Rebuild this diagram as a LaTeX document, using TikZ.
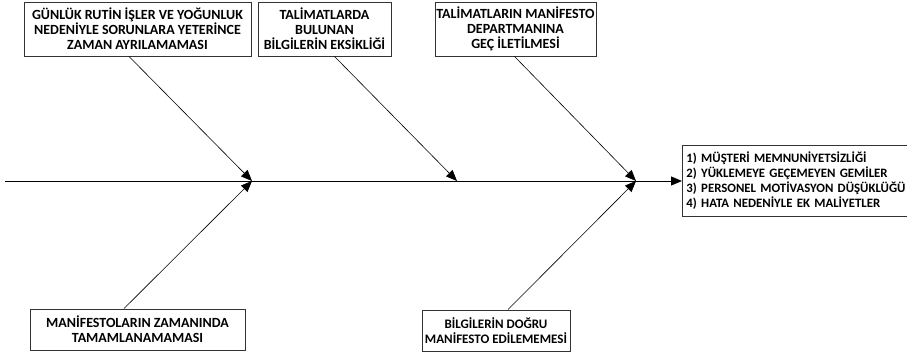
\documentclass[tikz,border=0pt]{standalone}
\usepackage{fontspec}
\setmainfont{Carlito}
\usetikzlibrary{arrows.meta}
\begin{document}
\begin{tikzpicture}[x=1pt,y=1pt,
  box/.style={draw=black!80,line width=0.9pt,fill=white,align=center,
    font=\bfseries\fontsize{14}{15}\selectfont,inner sep=0pt},
  cause/.style={line width=0.6pt,-{Triangle[length=11pt,width=9pt]}},
  spine/.style={line width=0.9pt,-{Triangle[length=11pt,width=9pt]}}]
\useasboundingbox (0,0) rectangle (907,354);
\fill[white] (0,0) rectangle (907,354);
\begin{scope}
\clip (0,0) rectangle (907,354);
% cause boxes, top row
\node[box,minimum width=227pt,minimum height=54pt] (b1) at (137.5,325)
  {GÜNLÜK RUTİN İŞLER VE YOĞUNLUK\\NEDENİYLE SORUNLARA YETERİNCE\\ZAMAN AYRILAMAMASI};
\node[box,minimum width=133pt,minimum height=54pt] (b2) at (324.5,325)
  {TALİMATLARDA\\BULUNAN\\BİLGİLERİN EKSİKLİĞİ};
\node[box,minimum width=161pt,minimum height=54pt] (b3) at (515.5,325)
  {TALİMATLARIN MANİFESTO\\DEPARTMANINA\\GEÇ İLETİLMESİ};
% cause boxes, bottom row
\node[box,minimum width=215pt,minimum height=41pt] (b4) at (137.5,24.5)
  {MANİFESTOLARIN ZAMANINDA\\TAMAMLANAMAMASI};
\node[box,minimum width=148pt,minimum height=41pt,
  font=\bfseries\fontsize{13}{15}\selectfont] (b5) at (496,23.5)
  {BİLGİLERİN DOĞRU\\MANİFESTO EDİLEMEMESİ};
% effect box
\node[box,anchor=west,minimum width=260pt,minimum height=71pt,align=left,
  text width=252pt,font=\bfseries\fontsize{12.8}{15}\selectfont] (eff) at (682,173.5)
  {1) MÜŞTERİ MEMNUNİYETSİZLİĞİ\\2) YÜKLEMEYE GEÇEMEYEN GEMİLER\\3) PERSONEL MOTİVASYON DÜŞÜKLÜĞÜ\\4) HATA NEDENİYLE EK MALİYETLER};
% spine
\coordinate (tail) at (5,173);
\coordinate (j1) at (252,173);
\coordinate (j2) at (457,173);
\coordinate (j3) at (636,173);
\draw[spine] (tail) -- (eff.west |- tail);
% start points of the bones on the box edges
\coordinate (s1) at ([xshift=-8.5pt]b1.south);
\coordinate (s2) at ([xshift=10pt]b2.south);
\coordinate (s3) at ([xshift=-1pt]b3.south);
\coordinate (s4) at ([xshift=-13.5pt]b4.north);
\coordinate (s5) at ([xshift=12pt]b5.north);
\draw[cause] (s1) -- (j1);
\draw[cause] (s4) -- (j1);
\draw[cause] (s2) -- (j2);
\draw[cause] (s3) -- (j3);
\draw[cause] (s5) -- (j3);
\end{scope}
\end{tikzpicture}
\end{document}
